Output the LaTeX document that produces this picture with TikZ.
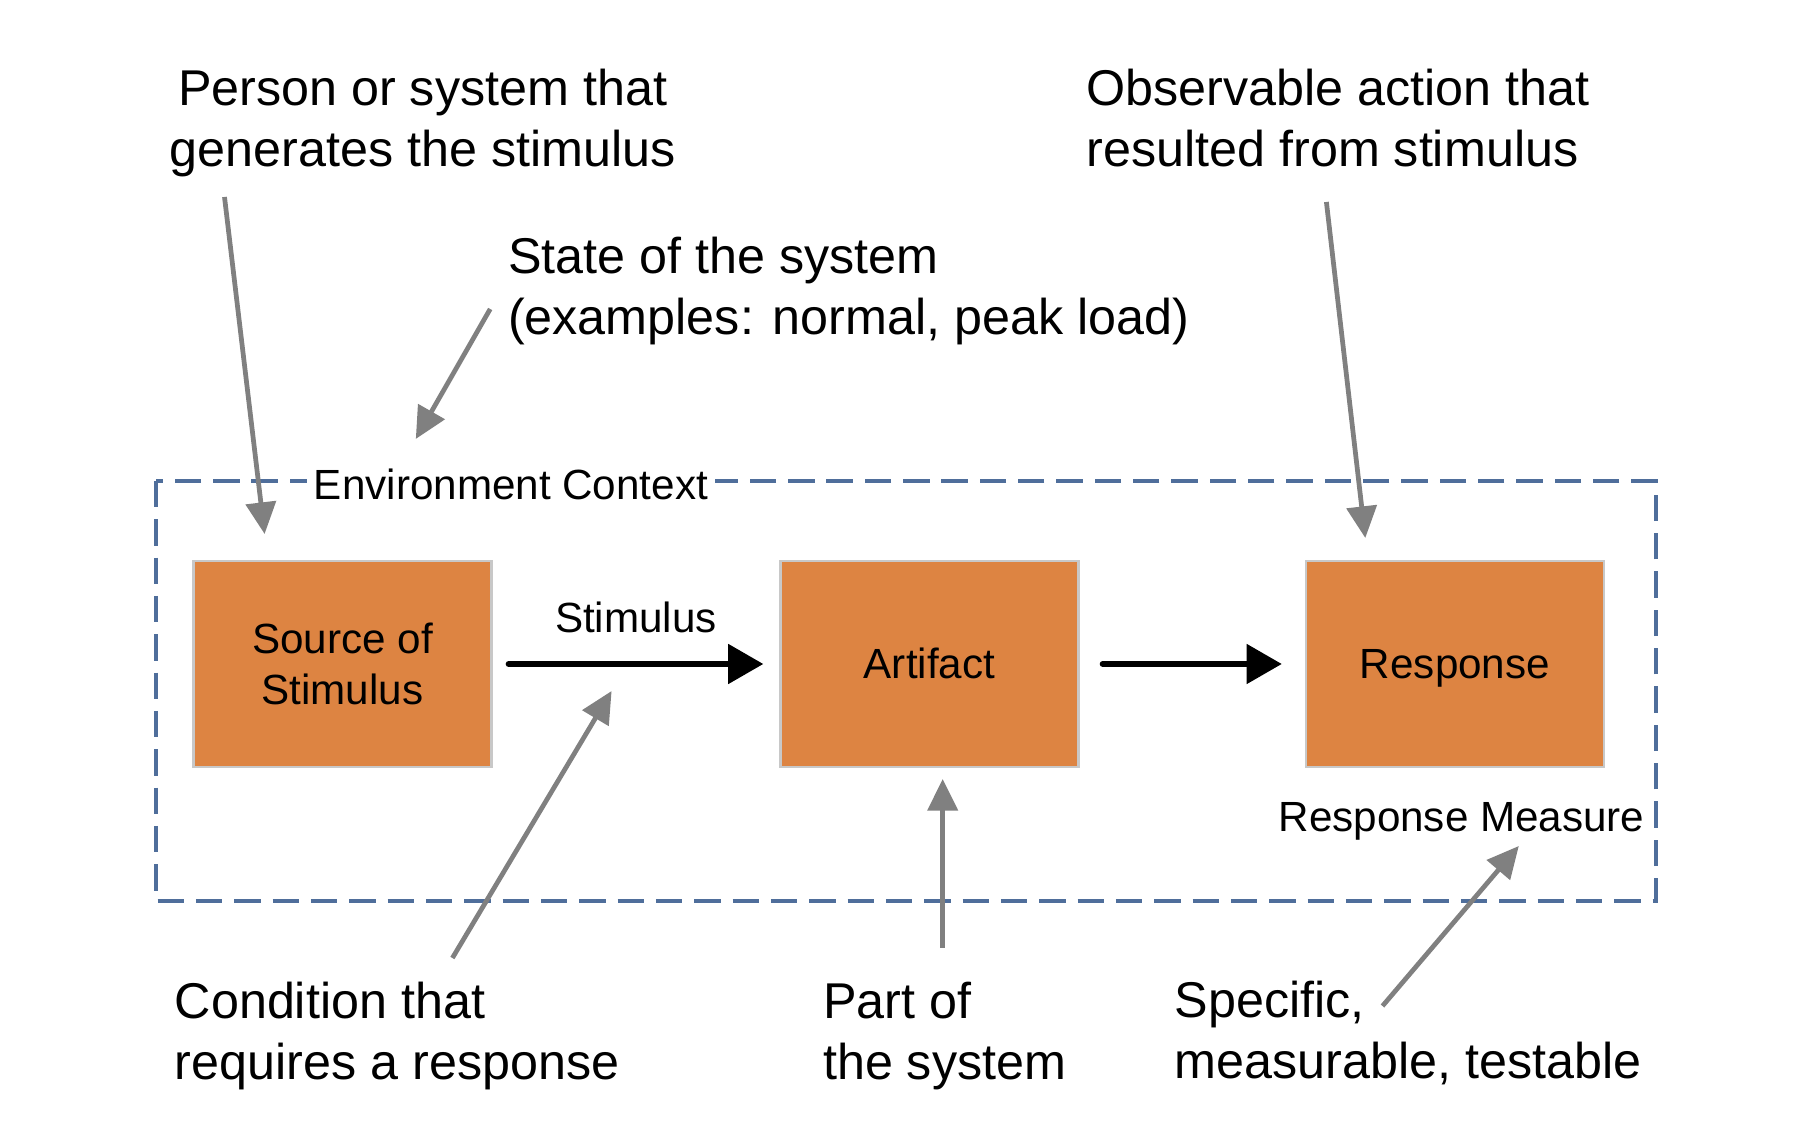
\documentclass[tikz,border=0pt]{standalone}
\usepackage{fontspec}
\setmainfont{Liberation Sans}
\usetikzlibrary{arrows.meta}
\definecolor{boxorange}{RGB}{221,132,66}
\definecolor{boxgray}{RGB}{200,200,200}
\definecolor{envblue}{RGB}{79,110,155}
\definecolor{notegray}{RGB}{128,128,128}
\begin{document}
\begin{tikzpicture}[x=0.01cm, y=-0.01cm,
        block/.style={rectangle, draw=boxgray, line width=0.7pt, fill=boxorange, minimum width=2.98cm, minimum height=2.06cm, align=center, font=\fontsize{12pt}{14.7pt}\selectfont},
        oneline/.style={text height=0.85em, text depth=0pt},
        note/.style={align=left, anchor=west, inner sep=0pt, font=\fontsize{14.3pt}{17.6pt}\selectfont},
        small/.style={inner sep=2pt, font=\fontsize{12pt}{14.7pt}\selectfont},
        flow/.style={-{Triangle[length=10pt,width=11pt]}, line width=1.7pt, line cap=round},
        pointer/.style={-{Triangle[length=9pt,width=8.5pt]}, notegray, line width=1.35pt},
        envbox/.style={envblue, line width=0.9pt, dash pattern=on 7.5pt off 3.4pt}
        ]
      \useasboundingbox (0,0) rectangle (1796,1134);

      \draw[envbox] (156,481) rectangle (1656,901);
      \node[small, fill=white] (env) at (511,484) {Environment Context};

      \node[block] (src) at (342.5,664) {Source of\\Stimulus};
      \node[block, oneline] (art) at (929.5,664) {Artifact};
      \node[block, oneline] (resp) at (1455,664) {Response};

      \draw[flow, shorten <=4.5pt, shorten >=4.5pt] (src) -- node[small, above=6pt] (stim) {Stimulus} (art);
      \draw[flow, shorten <=6.5pt, shorten >=6.5pt] (art) -- (resp);
      \node[small] (meas) at (1461.5,821) {Response Measure};

      \node[note, anchor=center, align=center] (who) at (422.6,123) {Person or system that\\generates the stimulus};
      \node[note] (state) at (507.4,291) {State of the system\\(examples: normal, peak load)};
      \node[note] (obs) at (1085.8,118) {Observable action that\\resulted from stimulus};
      \node[note] (cond) at (174.1,1036) {Condition that\\requires a response};
      \node[note] (part) at (822.4,1036) {Part of\\the system};
      \node[note] (spec) at (1174,1033) {Specific,\\measurable, testable};

      \coordinate (who-end) at (224.5,197);
      \coordinate (who-tip) at (264.6,534);
      \coordinate (state-end) at (490.2,309);
      \coordinate (state-tip) at (415.8,439);
      \coordinate (obs-end) at (1326.4,202);
      \coordinate (obs-tip) at (1365.3,538);
      \coordinate (cond-end) at (452.4,958);
      \coordinate (cond-tip) at (611.6,691);
      \coordinate (part-end) at (942.7,948);
      \coordinate (part-tip) at (942.7,779);
      \coordinate (spec-end) at (1382.5,1006);
      \coordinate (spec-tip) at (1518.8,846);

      \draw[pointer] (who-end) -- (who-tip);
      \draw[pointer] (state-end) -- (state-tip);
      \draw[pointer] (obs-end) -- (obs-tip);
      \draw[pointer] (cond-end) -- (cond-tip);
      \draw[pointer] (part-end) -- (part-tip);
      \draw[pointer] (spec-end) -- (spec-tip);
    \end{tikzpicture}
\end{document}
